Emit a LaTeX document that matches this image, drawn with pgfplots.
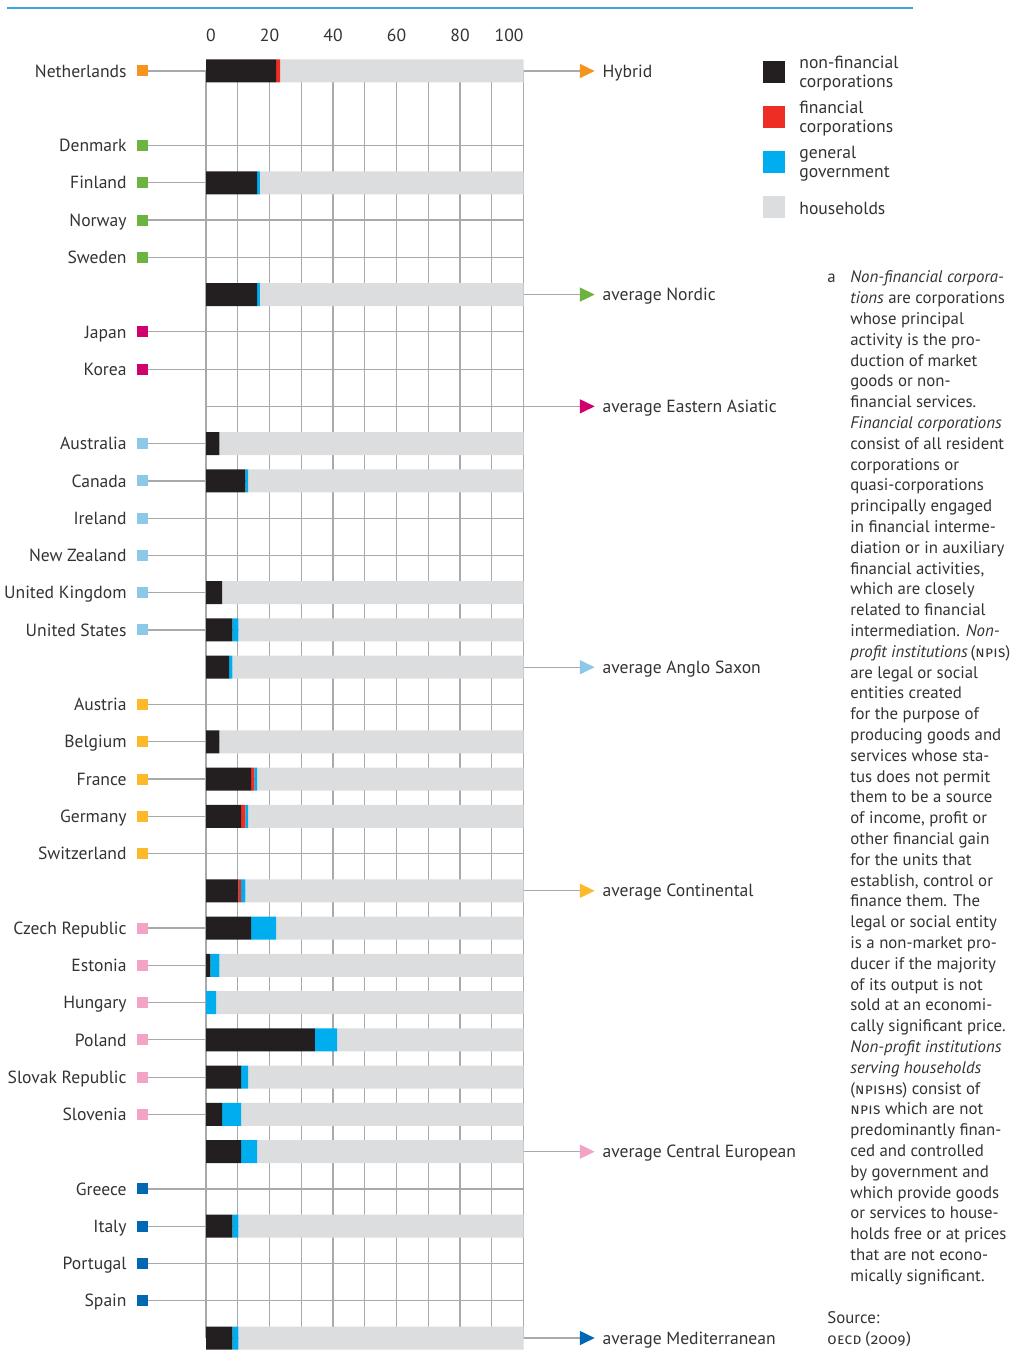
\documentclass[border=0pt]{standalone}
\usepackage{fontspec}
\setmainfont{PT Sans}
\newfontfamily\firasc[Letters=SmallCaps,Numbers=OldStyle,LetterSpace=2,Scale=0.9]{Fira Sans}
\usepackage{pgfplots}
\pgfplotsset{compat=1.18}
\usepackage{pgfplotstable}

\definecolor{cNF}{HTML}{231F20}
\definecolor{cFC}{HTML}{EE2E24}
\definecolor{cGG}{HTML}{00AEEF}
\definecolor{cHH}{HTML}{DCDDDE}
\definecolor{gHy}{HTML}{F7941D}
\definecolor{gNo}{HTML}{6DB33F}
\definecolor{gEA}{HTML}{D2006E}
\definecolor{gAS}{HTML}{8DC8E8}
\definecolor{gCo}{HTML}{FDB92A}
\definecolor{gCE}{HTML}{F4A3C7}
\definecolor{gMe}{HTML}{0068B2}
\definecolor{gridc}{HTML}{A7A9AC}
\definecolor{txt}{HTML}{333333}
\definecolor{topline}{HTML}{3AA6DD}

\pgfplotsset{sqlegend/.style={legend image code/.code={\fill[##1,draw=none] (0pt,-7.5pt) rectangle (11pt,3.5pt);}}}

\pgfplotstableread{
row nf   fc   gg  hh
1  22.1 1.25 0   76.65
4  16.1 0    0.9 83.0
7  16.1 0    0.9 83.0
11 4.2  0    0   95.8
12 12.4 0    0.9 86.7
15 5.1  0    0   94.9
16 8.3  0    1.9 89.8
17 7.3  0    1.0 91.7
19 4.2  0    0   95.8
20 14.2 1.0  0.9 83.9
21 11.1 1.3  0.9 86.7
23 10.2 0.9  1.3 87.6
24 14.2 0    7.9 77.9
25 1.4  0    2.8 95.8
26 0    0    3.2 96.8
27 34.3 0    7.0 58.7
28 11.1 0    2.2 86.7
29 5.1  0    6.0 88.9
30 11.1 0    5.0 83.9
32 8.3  0    1.9 89.8
35 8.3  0    1.9 89.8
}\data

\newcommand{\lab}[2]{#1\hspace{5pt}\textcolor{#2}{\rule[0.33pt]{5.5pt}{5.5pt}}}
\newcommand{\tri}[1]{\tikz[baseline=0pt]\fill[#1] (0pt,-0.5pt) -- (0pt,6.65pt) -- (7.35pt,3.08pt) -- cycle;}
\newcommand{\rlab}[2]{\tri{#2}\hspace{4pt}#1}
\newcommand{\lf}{\fontsize{8.8}{9.5}\selectfont}
\newcommand{\ff}{\fontsize{8.4}{10.4}\selectfont}

\begin{document}
\begin{tikzpicture}
\useasboundingbox (0pt,0pt) rectangle (505.5pt,684pt);
\draw[topline, line width=0.75pt] (3.5pt,680pt) -- (456.5pt,680pt);

% right-hand labels (averages)
\begin{axis}[
  at={(103pt,15pt)}, anchor=south west,
  scale only axis, width=158.75pt, height=633.5pt,
  xmin=0, xmax=100, ymin=1, ymax=35, y dir=reverse,
  axis line style={draw=none},
  xtick=\empty,
  ytick={1,7,10,17,23,30,35},
  ytick pos=right, yticklabel pos=right,
  tick align=outside, major tick length=28pt,
  ytick style={gridc, line width=0.6pt},
  ymajorgrids, major grid style={gridc, line width=0.6pt},
  yticklabels={{\rlab{Hybrid}{gHy}},{\rlab{average Nordic}{gNo}},{\rlab{average Eastern Asiatic}{gEA}},{\rlab{average Anglo Saxon}{gAS}},{\rlab{average Continental}{gCo}},{\rlab{average Central European}{gCE}},{\rlab{average Mediterranean}{gMe}}},
  yticklabel style={anchor=base west, yshift=-3.08pt, inner sep=0pt, font=\lf, text=txt},
]
\end{axis}

\begin{axis}[
  at={(103pt,15pt)}, anchor=south west,
  scale only axis, width=158.75pt, height=633.5pt,
  xmin=0, xmax=100, ymin=1, ymax=35, y dir=reverse,
  xbar stacked, bar width=11.5pt,
  clip=false,
  axis line style={draw=none},
  /pgf/number format/assume math mode=true,
  xtick={0,10,...,100},
  xticklabels={\makebox[0pt][l]{0},,20,,40,,60,,80,,\makebox[0pt][r]{100}},
  xticklabel pos=upper,
  xtick style={draw=none},
  xticklabel style={anchor=base, inner sep=0pt, yshift=-14.5pt, font=\lf, text=txt},
  xmajorgrids, ymajorgrids,
  major grid style={gridc, line width=0.6pt},
  ytick={1,3,4,5,6,8,9,11,12,13,14,15,16,18,19,20,21,22,24,25,26,27,28,29,31,32,33,34},
  yticklabels={{\lab{Netherlands}{gHy}},{\lab{Denmark}{gNo}},{\lab{Finland}{gNo}},{\lab{Norway}{gNo}},{\lab{Sweden}{gNo}},{\lab{Japan}{gEA}},{\lab{Korea}{gEA}},{\lab{Australia}{gAS}},{\lab{Canada}{gAS}},{\lab{Ireland}{gAS}},{\lab{New Zealand}{gAS}},{\lab{United Kingdom}{gAS}},{\lab{United States}{gAS}},{\lab{Austria}{gCo}},{\lab{Belgium}{gCo}},{\lab{France}{gCo}},{\lab{Germany}{gCo}},{\lab{Switzerland}{gCo}},{\lab{Czech Republic}{gCE}},{\lab{Estonia}{gCE}},{\lab{Hungary}{gCE}},{\lab{Poland}{gCE}},{\lab{Slovak Republic}{gCE}},{\lab{Slovenia}{gCE}},{\lab{Greece}{gMe}},{\lab{Italy}{gMe}},{\lab{Portugal}{gMe}},{\lab{Spain}{gMe}}},
  ytick pos=left, tick align=outside, major tick length=29pt,
  ytick style={gridc, line width=0.6pt},
  yticklabel style={anchor=base east, yshift=-3.08pt, inner sep=0pt, font=\lf, text=txt},
  legend cell align=left,
  legend style={at={(axis description cs:0,1)}, anchor=north west,
    xshift=278.5pt, yshift=8.25pt, draw=none, fill=none, inner sep=0pt,
    row sep=8.5pt, column sep=7pt,
    nodes={inner sep=0pt, font=\lf, text=txt}},
]
\addplot[fill=cNF, draw=none, sqlegend] table[x=nf, y=row]{\data};
\addlegendentry{\parbox[c][18.5pt][c]{70pt}{non-financial\\corporations}}
\addplot[fill=cFC, draw=none, sqlegend] table[x=fc, y=row]{\data};
\addlegendentry{\parbox[c][18.5pt][c]{70pt}{financial\\corporations}}
\addplot[fill=cGG, draw=none, sqlegend] table[x=gg, y=row]{\data};
\addlegendentry{\parbox[c][18.5pt][c]{70pt}{general\\government}}
\addplot[fill=cHH, draw=none, sqlegend] table[x=hh, y=row]{\data};
\addlegendentry{\parbox[c][18.5pt][c]{70pt}{households}}
\end{axis}

% footnote
\node[anchor=base west, inner sep=0pt, font=\ff, text=txt] at (413.5pt,542.5pt) {a};
\node[anchor=base west, inner sep=0pt, font=\ff, text=txt] at (425pt,542.5pt) {\parbox[t]{90pt}{\raggedright
\textit{Non-financial corpora-}\\
\textit{tions} are corporations\\
whose principal\\
activity is the pro-\\
duction of market\\
goods or non-\\
financial services.\\
\textit{Financial corporations}\\
consist of all resident\\
corporations or\\
quasi-corporations\\
principally engaged\\
in financial interme-\\
diation or in auxiliary\\
financial activities,\\
which are closely\\
related to financial\\
intermediation. \textit{Non-}\\
\textit{profit institutions}\,({\firasc npis})\\
are legal or social\\
entities created\\
for the purpose of\\
producing goods and\\
services whose sta-\\
tus does not permit\\
them to be a source\\
of income, profit or\\
other financial gain\\
for the units that\\
establish, control or\\
finance them. The\\
legal or social entity\\
is a non-market pro-\\
ducer if the majority\\
of its output is not\\
sold at an economi-\\
cally significant price.\\
\textit{Non-profit institutions}\\
\textit{serving households}\\
({\firasc npishs}) consist of\\
{\firasc npis} which are not\\
predominantly finan-\\
ced and controlled\\
by government and\\
which provide goods\\
or services to house-\\
holds free or at prices\\
that are not econo-\\
mically significant.}};
\node[anchor=base west, inner sep=0pt, font=\ff, text=txt] at (413.5pt,22pt) {Source:};
\node[anchor=base west, inner sep=0pt, font=\ff, text=txt] at (413.5pt,11.5pt) {{\firasc oecd (2009)}};
\end{tikzpicture}
\end{document}
